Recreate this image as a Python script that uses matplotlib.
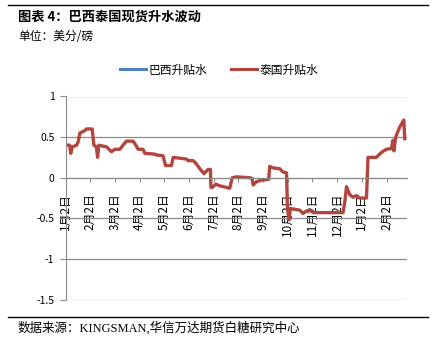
import numpy as np
import matplotlib.pyplot as plt
from matplotlib.lines import Line2D

plt.rcParams['font.family'] = ['Noto Sans CJK SC', 'DejaVu Sans']

# x = months since 1月2日, y = 美分/磅
thai_x = [0.00, 0.17, 0.21, 0.28, 0.45, 0.52, 0.58, 0.78, 0.85, 1.08, 1.15, 1.25,
          1.30, 1.35, 1.66, 1.86, 2.00, 2.20, 2.33, 2.47, 2.74, 2.85, 2.94, 3.14,
          3.21, 3.62, 3.68, 3.95, 4.05, 4.29, 4.36, 4.90, 4.96, 5.17, 5.30, 5.44,
          5.61, 5.77, 5.87, 5.89, 5.94, 6.09, 6.25, 6.65, 6.75, 6.92, 7.46, 7.56,
          7.60, 7.73, 7.94, 8.23, 8.27, 8.41, 8.68, 8.81, 8.95, 8.99, 9.05, 9.11,
          9.49, 9.62, 9.76, 9.89, 10.03, 11.24, 11.31, 11.38, 11.51, 11.65, 11.78,
          11.91, 12.19, 12.25, 12.59, 12.79, 12.99, 13.20, 13.26, 13.30, 13.37,
          13.53, 13.70, 13.74]
thai_y = [0.40, 0.40, 0.30, 0.38, 0.40, 0.45, 0.55, 0.58, 0.60, 0.60, 0.40, 0.38,
          0.25, 0.40, 0.38, 0.32, 0.35, 0.35, 0.40, 0.45, 0.45, 0.40, 0.35, 0.35,
          0.30, 0.29, 0.28, 0.27, 0.15, 0.15, 0.25, 0.23, 0.21, 0.21, 0.17, 0.11,
          0.05, 0.10, 0.10, -0.12, -0.12, -0.08, -0.10, -0.13, 0.00, 0.01, 0.00, -0.01,
          -0.09, -0.05, -0.03, -0.02, 0.14, 0.12, 0.11, 0.07, 0.06, -0.38, -0.52, -0.38,
          -0.40, -0.44, -0.41, -0.40, -0.43, -0.43, -0.30, -0.11, -0.21, -0.24, -0.22,
          -0.25, -0.25, 0.25, 0.25, 0.31, 0.35, 0.36, 0.46, 0.33, 0.50,
          0.62, 0.71, 0.48]
brazil_x = []
brazil_y = []

tick_labels = ['1月2日', '2月2日', '3月2日', '4月2日', '5月2日', '6月2日', '7月2日',
               '8月2日', '9月2日', '10月2日', '11月2日', '12月2日', '1月2日', '2月2日']
y_ticks = [1, 0.5, 0, -0.5, -1, -1.5]
y_labels = ['1', '0.5', '0', '-0.5', '-1', '-1.5']

BLUE = '#4F81BD'
RED = '#B3453F'
GRID = '#8C8C8C'

fig = plt.figure(figsize=(4.36, 3.40), dpi=100)
ax = fig.add_axes([65.5 / 436, 1 - 299.5 / 340, (407 - 65.5) / 436, (299.5 - 96.5) / 340])

# spine position first: it resets the ticks
for s in ('top', 'right'):
    ax.spines[s].set_visible(False)
ax.spines['left'].set_color(GRID)
ax.spines['bottom'].set_color(GRID)
ax.spines['bottom'].set_position(('data', 0))

ax.plot(brazil_x, brazil_y, color=BLUE, lw=2.2)
ax.plot(thai_x, thai_y, color=RED, lw=2.4, solid_joinstyle='round')

ax.set_xlim(0, 13.83)
ax.set_ylim(-1.5, 1)
ax.set_yticks(y_ticks)
ax.set_yticklabels(y_labels, fontsize=7.5)
ax.set_xticks(range(len(tick_labels)))
ax.set_xticklabels(tick_labels, fontsize=8.5)
ax.grid(axis='y', color=GRID, lw=0.9)
ax.set_axisbelow(True)

ax.tick_params(axis='y', direction='out', length=4, color=GRID, pad=4)
ax.tick_params(axis='x', direction='out', length=3, color=GRID, pad=8,
               labelrotation=90)
for lab in ax.get_xticklabels():
    lab.set_va('top')

handles = [Line2D([], [], color=BLUE, lw=2.2), Line2D([], [], color=RED, lw=2.2)]
fig.legend(handles, ['巴西升贴水', '泰国升贴水'], loc='center', ncol=2,
           bbox_to_anchor=(219 / 436, 1 - 70 / 340), frameon=False, fontsize=8.5,
           handlelength=2.2, handletextpad=0.2, columnspacing=2.0)

fig.add_artist(Line2D([8 / 436, 428 / 436], [1 - 5 / 340] * 2, color='black', lw=1))
fig.add_artist(Line2D([8 / 436, 428 / 436], [1 - 317 / 340] * 2, color='black', lw=1))

fig.text(18 / 436, 1 - 17 / 340, '图表 4：巴西泰国现货升水波动', fontsize=9.5,
         fontweight='bold', va='center', ha='left')
fig.text(18 / 436, 1 - 37 / 340, '单位：美分/磅', fontsize=8.5, va='center', ha='left')
fig.text(18 / 436, 1 - 328 / 340, '数据来源：KINGSMAN,华信万达期货白糖研究中心',
         fontsize=9, va='center', ha='left',
         family=['Liberation Serif', 'Noto Sans CJK SC'])

fig.savefig('out.png', dpi=100)
